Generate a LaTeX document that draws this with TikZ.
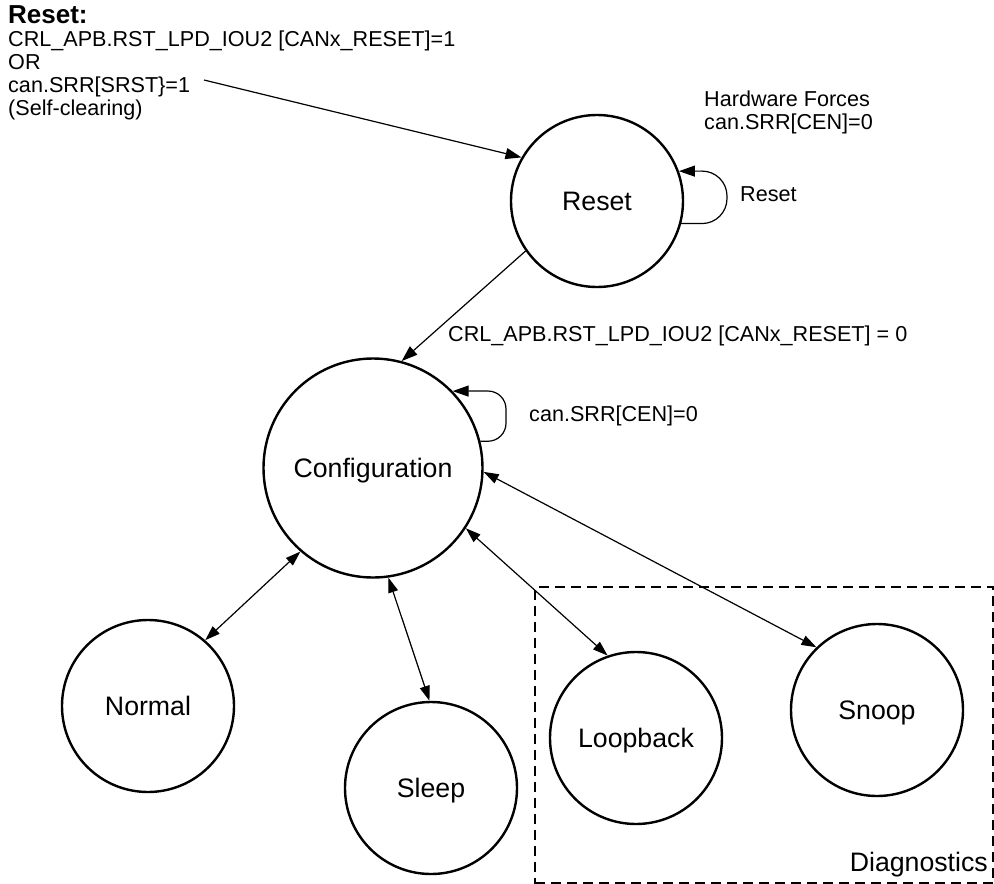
\documentclass[tikz,border=0pt]{standalone}
\usepackage{fontspec}
\setmainfont{Liberation Sans}
\usetikzlibrary{arrows.meta}
\begin{document}
\begin{tikzpicture}[x=1pt,y=-1pt,
  state/.style={circle, draw, line width=2.4pt, inner sep=0pt, text height=19.2pt, text depth=0pt,
    font=\fontsize{26.7}{30}\selectfont},
  big/.style={inner sep=0pt, font=\fontsize{26.7}{30}\selectfont},
  lbl/.style={inner sep=0pt, font=\fontsize{21.6}{24}\selectfont},
  ahead/.style={-{Triangle[length=16pt,width=11pt]}, line width=1.2pt},
  dhead/.style={{Triangle[length=15pt,width=10pt]}-{Triangle[length=15pt,width=10pt]}, line width=1.2pt},
]
\useasboundingbox (0,0) rectangle (994,884);

% states
\node[state, minimum size=172pt] (reset)  at (597,201) {Reset};
\node[state, minimum size=219pt] (config) at (373,468) {Configuration};
\node[state, minimum size=172pt] (normal) at (148,706) {Normal};
\node[state, minimum size=172pt] (sleep)  at (431,788) {Sleep};
\node[state, minimum size=172pt] (loop)   at (636,738) {Loopback};
\node[state, minimum size=172pt] (snoop)  at (877,710) {Snoop};

% diagnostics box
\node[draw, line width=2.4pt, dash pattern=on 10pt off 6pt, anchor=north west,
  minimum width=458.5pt, minimum height=296.5pt, inner sep=0pt, outer sep=0pt] (diag) at (535,587) {};
\node[big, anchor=base east] (diaglbl) at (988,871) {Diagnostics};

% reset text block
\node[inner sep=0pt, anchor=base west, font=\fontsize{26}{28}\bfseries] (title) at (8,23) {Reset:};
\node[lbl, anchor=base west] (c1) at (8,46) {CRL\_APB.RST\_LPD\_IOU2 [CANx\_RESET]=1};
\node[lbl, anchor=base west] (c2) at (8,69) {OR};
\node[lbl, anchor=base west] (c3) at (8,92) {can.SRR[SRST\}=1};
\node[lbl, anchor=base west] (c4) at (8,115) {(Self-clearing)};

\node[lbl, anchor=base west] (hw1) at (704,106) {Hardware Forces};
\node[lbl, anchor=base west] (hw2) at (704,129) {can.SRR[CEN]=0};

% input arrow
\coordinate (rin) at (204,80);
\draw[ahead] (rin) -- (reset.150);

% reset self loop
\draw[ahead, rounded corners=25pt] (reset.-15) -| (727,171) -- (reset.20);
\node[lbl, anchor=base west] (rlbl) at (740,201) {Reset};

% reset -> configuration
\draw[ahead] (reset.215) -- (config.75);
\node[lbl, anchor=base west] (rclbl) at (448,341) {CRL\_APB.RST\_LPD\_IOU2 [CANx\_RESET] = 0};

% configuration self loop
\draw[ahead, rounded corners=18pt] (config.14) -| (506,391) -- (config.44);
\node[lbl, anchor=base west] (clbl) at (529,421) {can.SRR[CEN]=0};

% two-way transitions
\draw[dhead] (config.229) -- (normal.49);
\draw[dhead] (config.278) -- (sleep.91);
\draw[dhead] (config.327) -- (loop.109);
\draw[dhead] (config.-2) -- (snoop.134);
\end{tikzpicture}
\end{document}
